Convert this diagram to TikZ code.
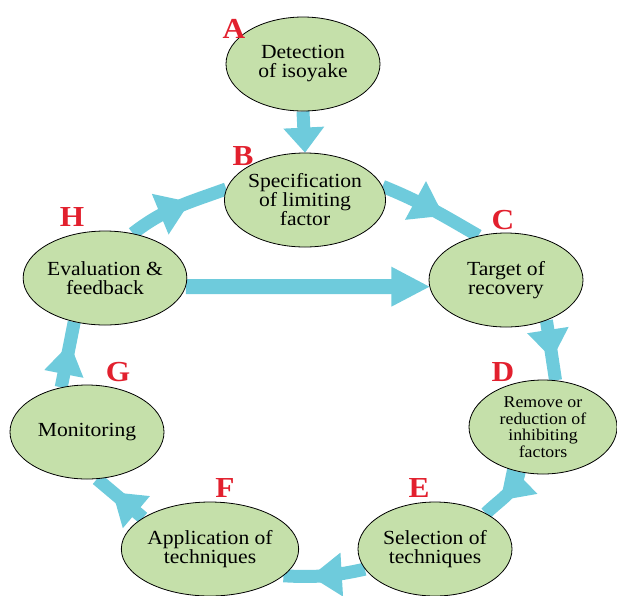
\documentclass[tikz,border=0pt]{standalone}
\usepackage{fontspec}
\setmainfont{Liberation Serif}[FakeStretch=1.08]
\usetikzlibrary{shapes.geometric,calc}
\definecolor{nodefill}{RGB}{197,224,170}
\definecolor{flowc}{RGB}{110,203,220}
\definecolor{lblc}{RGB}{226,32,46}
\pgfdeclarelayer{background}
\pgfsetlayers{background,main}
\tikzset{
  stage/.style={ellipse, draw=black, line width=0.8pt, fill=nodefill,
    minimum width=154pt, minimum height=94pt, inner sep=0pt, align=center,
    font=\fontsize{20}{19}\selectfont},
  letter/.style={text=lblc, font=\fontsize{29}{29}\selectfont\bfseries, inner sep=0pt},
  shaft/.style={draw=flowc, line width=13pt},
  headfill/.style={fill=flowc},
}
% #1 tip coordinate, #2 back coordinate, #3 head length, #4 half width
\newcommand\flowtip[4]{%
  \coordinate (q#1) at ($(#1)!#3!(#2)$);
  \fill[headfill] (#1) -- ($(q#1)!#4!90:(#1)$) -- ($(q#1)!#4!-90:(#1)$) -- cycle;}
\begin{document}
\begin{tikzpicture}[x=1pt,y=1pt]
\useasboundingbox (0,0) rectangle (617,-595);

\node[stage] (A) at (303,-64) {Detection\\of isoyake};
\node[stage] (B) at (305,-200) {Specification\\of limiting\\factor};
\node[stage] (C) at (506,-280) {Target of\\recovery};
\node[stage, minimum width=148pt, font=\fontsize{16.5}{16.5}\selectfont] (D) at (543,-427) {Remove or\\reduction of\\inhibiting\\factors};
\node[stage] (E) at (435,-549) {Selection of\\techniques};
\node[stage] (F) at (210,-549) {Application of\\techniques};
\node[stage] (G) at (87,-432) {Monitoring};
\node[stage] (H) at (105,-278) {Evaluation \&\\feedback};

\node[letter] (la) at (234,-29) {A};
\node[letter] (lb) at (243,-156) {B};
\node[letter] (lc) at (503,-220) {C};
\node[letter] (ld) at (503,-372) {D};
\node[letter] (le) at (419,-488) {E};
\node[letter] (lf) at (225,-488) {F};
\node[letter] (lg) at (118,-372) {G};
\node[letter] (lh) at (72,-217) {H};

\begin{pgfonlayer}{background}
  % A -> B
  \draw[shaft, shorten >=20pt] (A.south) -- coordinate[pos=0] (abb) coordinate[pos=1] (abt) (B.north);
  \flowtip{abt}{abb}{25pt}{20.5pt}
  % B -> C
  \draw[shaft] (B.10) to[out=-22,in=150] coordinate[pos=0.64] (bct) coordinate[pos=0.45] (bcb) (C.122);
  \flowtip{bct}{bcb}{32pt}{22pt}
  % C -> D
  \draw[shaft] (C.-45) -- coordinate[pos=0.64] (cdt) coordinate[pos=0.3] (cdb) (D.75);
  \flowtip{cdt}{cdb}{29pt}{21pt}
  % D -> E
  \draw[shaft] (D.-118) to[out=-100,in=45] coordinate[pos=0.66] (det) coordinate[pos=0.4] (deb) (E.35);
  \flowtip{det}{deb}{31pt}{21pt}
  % E -> F
  \draw[shaft] (E.196) to[bend left=8] coordinate[pos=0.68] (eft) coordinate[pos=0.45] (efb) (F.-20);
  \flowtip{eft}{efb}{31pt}{22pt}
  % F -> G
  \draw[shaft] (F.155) -- coordinate[pos=0.66] (fgt) coordinate[pos=0.3] (fgb) (G.-78);
  \flowtip{fgt}{fgb}{31pt}{21pt}
  % G -> H
  \draw[shaft] (G.120) -- coordinate[pos=0.67] (ght) coordinate[pos=0.3] (ghb) (H.-125);
  \flowtip{ght}{ghb}{31pt}{20pt}
  % H -> B
  \draw[shaft] (H.58) to[out=38,in=200] coordinate[pos=0.64] (hbt) coordinate[pos=0.45] (hbb) (B.172);
  \flowtip{hbt}{hbb}{32pt}{22pt}
  % H -> C
  \draw[shaft, line width=15pt, shorten >=30pt] (H.-6) -- coordinate[pos=0] (hcb) coordinate[pos=1] (hct) (C.185);
  \flowtip{hct}{hcb}{38pt}{20pt}
\end{pgfonlayer}
\end{tikzpicture}
\end{document}
